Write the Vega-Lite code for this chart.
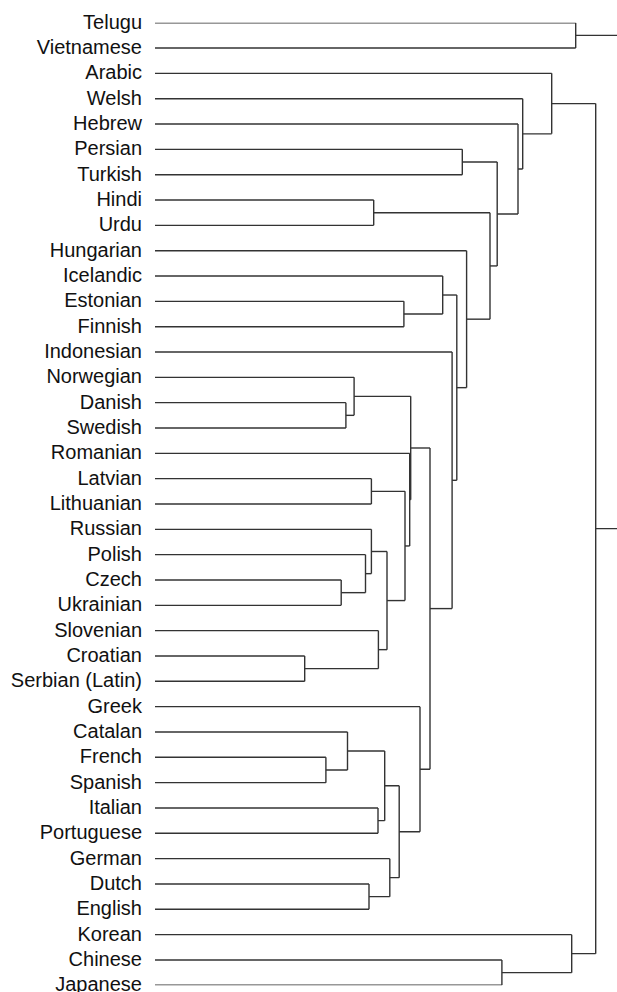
{
  "$schema": "https://vega.github.io/schema/vega-lite/v6.json",
  "width": 462,
  "height": 962.6,
  "autosize": {"type": "none"},
  "padding": {"left": 155, "top": 22.7, "right": 0, "bottom": 6.7},
  "config": {"view": {"stroke": null}},
  "datasets": {
    "leaves": [
      {"name": "Telugu", "pos": 0}, {"name": "Vietnamese", "pos": 1}, {"name": "Arabic", "pos": 2},
      {"name": "Welsh", "pos": 3}, {"name": "Hebrew", "pos": 4}, {"name": "Persian", "pos": 5},
      {"name": "Turkish", "pos": 6}, {"name": "Hindi", "pos": 7}, {"name": "Urdu", "pos": 8},
      {"name": "Hungarian", "pos": 9}, {"name": "Icelandic", "pos": 10}, {"name": "Estonian", "pos": 11},
      {"name": "Finnish", "pos": 12}, {"name": "Indonesian", "pos": 13}, {"name": "Norwegian", "pos": 14},
      {"name": "Danish", "pos": 15}, {"name": "Swedish", "pos": 16}, {"name": "Romanian", "pos": 17},
      {"name": "Latvian", "pos": 18}, {"name": "Lithuanian", "pos": 19}, {"name": "Russian", "pos": 20},
      {"name": "Polish", "pos": 21}, {"name": "Czech", "pos": 22}, {"name": "Ukrainian", "pos": 23},
      {"name": "Slovenian", "pos": 24}, {"name": "Croatian", "pos": 25}, {"name": "Serbian (Latin)", "pos": 26},
      {"name": "Greek", "pos": 27}, {"name": "Catalan", "pos": 28}, {"name": "French", "pos": 29},
      {"name": "Spanish", "pos": 30}, {"name": "Italian", "pos": 31}, {"name": "Portuguese", "pos": 32},
      {"name": "German", "pos": 33}, {"name": "Dutch", "pos": 34}, {"name": "English", "pos": 35},
      {"name": "Korean", "pos": 36}, {"name": "Chinese", "pos": 37}, {"name": "Japanese", "pos": 38}
    ],
    "merges": [
      {"id": "m1", "h": 420.7, "a": 0, "ha": 0, "b": 1, "hb": 0},
      {"id": "m2", "h": 307.3, "a": 5, "ha": 0, "b": 6, "hb": 0},
      {"id": "m3", "h": 218.7, "a": 7, "ha": 0, "b": 8, "hb": 0},
      {"id": "m4", "h": 248.9, "a": 11, "ha": 0, "b": 12, "hb": 0},
      {"id": "m5", "h": 287.7, "a": 10, "ha": 0, "b": 11.5, "hb": 248.9},
      {"id": "m6", "h": 190.9, "a": 15, "ha": 0, "b": 16, "hb": 0},
      {"id": "m7", "h": 199.1, "a": 14, "ha": 0, "b": 15.5, "hb": 190.9},
      {"id": "m8", "h": 216.4, "a": 18, "ha": 0, "b": 19, "hb": 0},
      {"id": "m9", "h": 186.2, "a": 22, "ha": 0, "b": 23, "hb": 0},
      {"id": "m10", "h": 210.5, "a": 21, "ha": 0, "b": 22.5, "hb": 186.2},
      {"id": "m11", "h": 216.4, "a": 20, "ha": 0, "b": 21.75, "hb": 210.5},
      {"id": "m12", "h": 149.7, "a": 25, "ha": 0, "b": 26, "hb": 0},
      {"id": "m13", "h": 223.4, "a": 24, "ha": 0, "b": 25.5, "hb": 149.7},
      {"id": "m14", "h": 232.0, "a": 20.875, "ha": 216.4, "b": 24.75, "hb": 223.4},
      {"id": "m15", "h": 250.0, "a": 18.5, "ha": 216.4, "b": 22.8125, "hb": 232.0},
      {"id": "m16", "h": 254.7, "a": 17, "ha": 0, "b": 20.65625, "hb": 250.0},
      {"id": "m17", "h": 255.7, "a": 14.75, "ha": 199.1, "b": 18.828125, "hb": 254.7},
      {"id": "m18", "h": 170.9, "a": 29, "ha": 0, "b": 30, "hb": 0},
      {"id": "m19", "h": 192.5, "a": 28, "ha": 0, "b": 29.5, "hb": 170.9},
      {"id": "m20", "h": 223.0, "a": 31, "ha": 0, "b": 32, "hb": 0},
      {"id": "m21", "h": 229.7, "a": 28.75, "ha": 192.5, "b": 31.5, "hb": 223.0},
      {"id": "m22", "h": 214.0, "a": 34, "ha": 0, "b": 35, "hb": 0},
      {"id": "m23", "h": 234.8, "a": 33, "ha": 0, "b": 34.5, "hb": 214.0},
      {"id": "m24", "h": 244.2, "a": 30.125, "ha": 229.7, "b": 33.75, "hb": 234.8},
      {"id": "m25", "h": 265.0, "a": 27, "ha": 0, "b": 31.9375, "hb": 244.2},
      {"id": "m26", "h": 275.0, "a": 16.7890625, "ha": 255.7, "b": 29.46875, "hb": 265.0},
      {"id": "m27", "h": 297.1, "a": 13, "ha": 0, "b": 23.1289, "hb": 275.0},
      {"id": "m28", "h": 301.8, "a": 10.75, "ha": 287.7, "b": 18.0645, "hb": 297.1},
      {"id": "m29", "h": 311.6, "a": 9, "ha": 0, "b": 14.4072, "hb": 301.8},
      {"id": "m30", "h": 335.0, "a": 7.5, "ha": 218.7, "b": 11.7036, "hb": 311.6},
      {"id": "m31", "h": 342.2, "a": 5.5, "ha": 307.3, "b": 9.6018, "hb": 335.0},
      {"id": "m32", "h": 363.0, "a": 4, "ha": 0, "b": 7.5509, "hb": 342.2},
      {"id": "m33", "h": 367.7, "a": 3, "ha": 0, "b": 5.7755, "hb": 363.0},
      {"id": "m34", "h": 396.7, "a": 2, "ha": 0, "b": 4.3877, "hb": 367.7},
      {"id": "m35", "h": 346.9, "a": 37, "ha": 0, "b": 38, "hb": 0},
      {"id": "m36", "h": 416.7, "a": 36, "ha": 0, "b": 37.5, "hb": 346.9},
      {"id": "m37", "h": 440.7, "a": 3.1939, "ha": 396.7, "b": 36.75, "hb": 416.7},
      {"id": "m38", "h": 500.0, "a": 0.5, "ha": 420.7, "b": 19.9719, "hb": 440.7}
    ]
  },
  "layer": [
    {
      "data": {"name": "leaves"},
      "mark": {"type": "text", "align": "right", "baseline": "middle", "dx": -13, "font": "Liberation Sans", "fontSize": 20, "color": "#111"},
      "encoding": {
        "x": {"datum": 0, "type": "quantitative", "scale": {"domain": [0, 462], "nice": false, "zero": false}, "axis": null},
        "y": {"field": "pos", "type": "quantitative", "scale": {"domain": [0, 38], "reverse": true, "nice": false, "zero": false}, "axis": null},
        "text": {"field": "name"}
      }
    },
    {
      "data": {"name": "merges"},
      "mark": {"type": "rule", "clip": true, "color": "#333", "strokeWidth": 1.4},
      "encoding": {
        "x": {"field": "h", "type": "quantitative"},
        "y": {"field": "a", "type": "quantitative"},
        "y2": {"field": "b"}
      }
    },
    {
      "data": {"name": "merges"},
      "mark": {"type": "rule", "clip": true, "color": "#333", "strokeWidth": 1.4},
      "encoding": {
        "x": {"field": "ha", "type": "quantitative"},
        "x2": {"field": "h"},
        "y": {"field": "a", "type": "quantitative"}
      }
    },
    {
      "data": {"name": "merges"},
      "mark": {"type": "rule", "clip": true, "color": "#333", "strokeWidth": 1.4},
      "encoding": {
        "x": {"field": "hb", "type": "quantitative"},
        "x2": {"field": "h"},
        "y": {"field": "b", "type": "quantitative"}
      }
    }
  ]
}
